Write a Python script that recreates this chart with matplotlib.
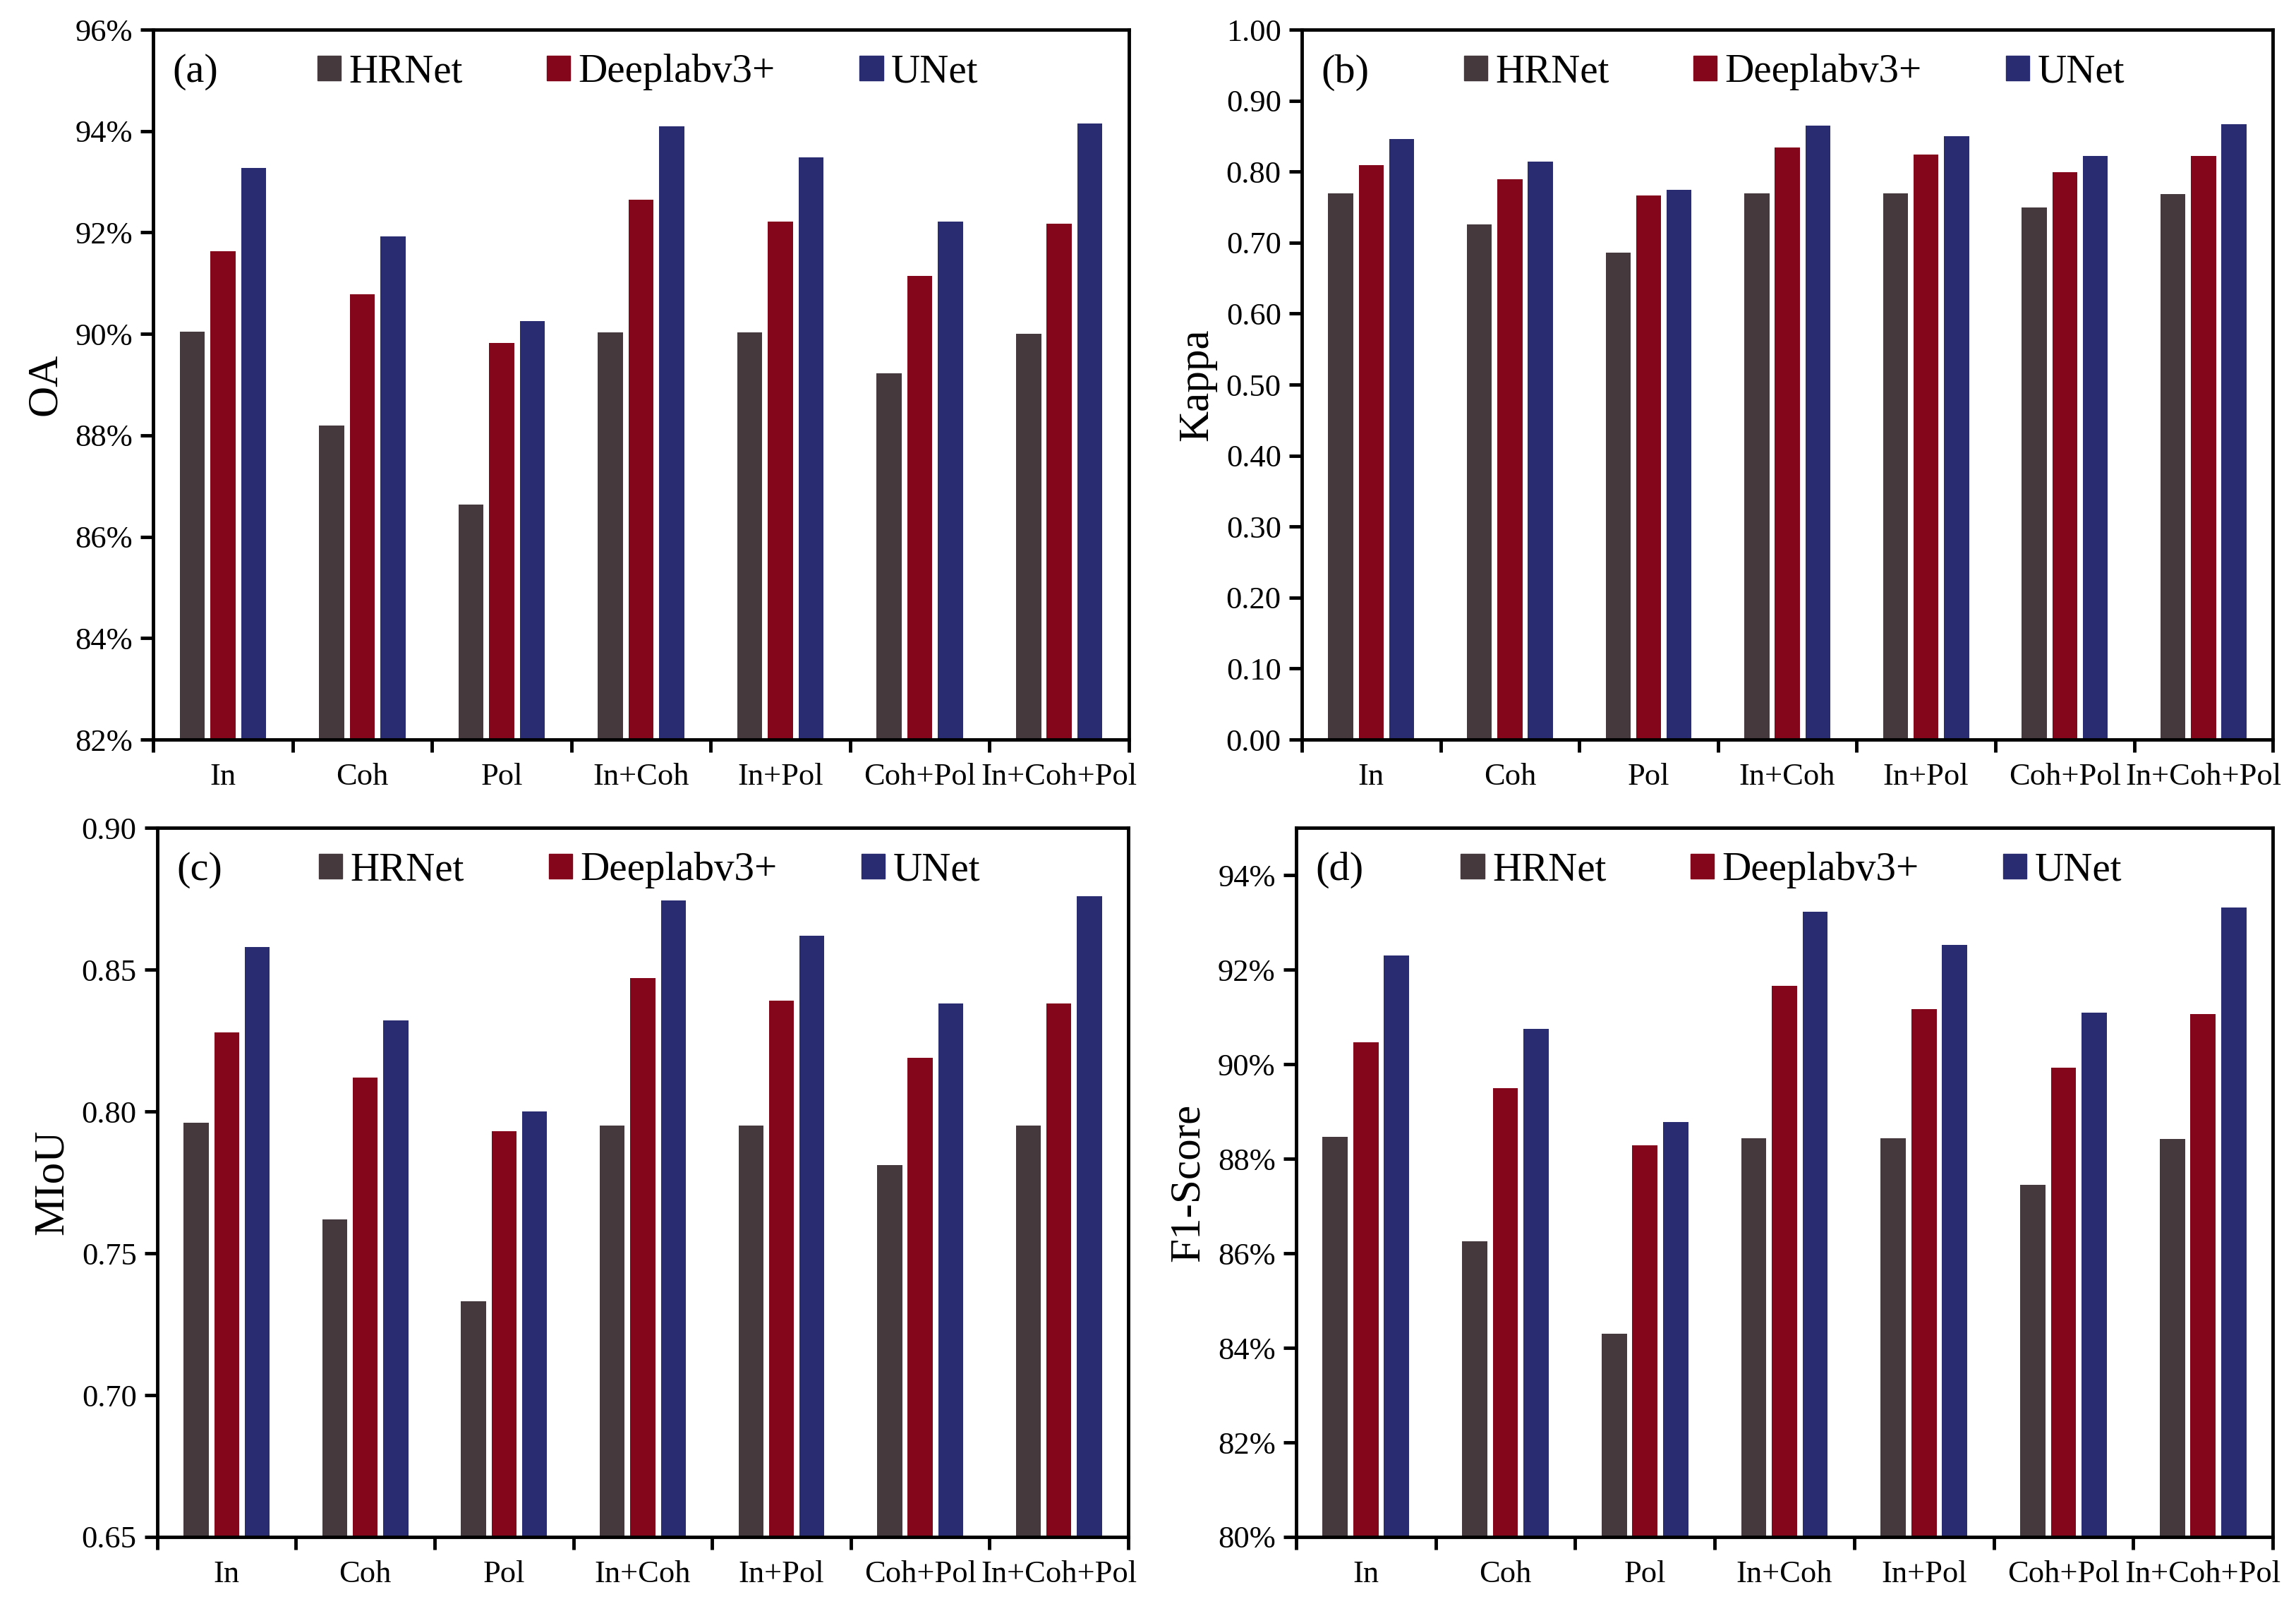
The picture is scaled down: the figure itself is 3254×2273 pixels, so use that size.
import matplotlib
matplotlib.use("Agg")
import matplotlib.pyplot as plt
import numpy as np
from matplotlib.patches import Patch
from matplotlib.ticker import FuncFormatter, FixedLocator

plt.rcParams['font.family'] = ['Liberation Serif', 'DejaVu Serif']

groups = ["In", "Coh", "Pol", "In+Coh", "In+Pol", "Coh+Pol", "In+Coh+Pol"]
models = ["HRNet", "Deeplabv3+", "UNet"]
colors = ["#46393D", "#83061A", "#2A2C72"]

# (a) OA in %
oa_hrnet = [90.05, 88.20, 86.64, 90.03, 90.03, 89.22, 90.00]
oa_deeplab = [91.63, 90.78, 89.82, 92.65, 92.22, 91.15, 92.18]
oa_unet = [93.28, 91.92, 90.25, 94.10, 93.48, 92.22, 94.15]

# (b) Kappa
kappa_hrnet = [0.769, 0.726, 0.686, 0.769, 0.769, 0.750, 0.768]
kappa_deeplab = [0.809, 0.789, 0.766, 0.834, 0.824, 0.799, 0.822]
kappa_unet = [0.846, 0.814, 0.774, 0.865, 0.850, 0.822, 0.867]

# (c) MIoU
miou_hrnet = [0.796, 0.762, 0.733, 0.795, 0.795, 0.781, 0.795]
miou_deeplab = [0.828, 0.812, 0.793, 0.847, 0.839, 0.819, 0.838]
miou_unet = [0.858, 0.832, 0.800, 0.8745, 0.862, 0.838, 0.8758]

# (d) F1-Score in %
f1_hrnet = [88.47, 86.25, 84.30, 88.44, 88.44, 87.45, 88.42]
f1_deeplab = [90.47, 89.49, 88.29, 91.66, 91.17, 89.93, 91.06]
f1_unet = [92.30, 90.74, 88.77, 93.23, 92.52, 91.09, 93.31]

panels = [
    ("(a)", "OA", [oa_hrnet, oa_deeplab, oa_unet], (82, 96), np.arange(82, 97, 2), lambda v, p: "%d%%" % round(v)),
    ("(b)", "Kappa", [kappa_hrnet, kappa_deeplab, kappa_unet], (0, 1.0), np.arange(0, 1.01, 0.1), lambda v, p: "%.2f" % v),
    ("(c)", "MIoU", [miou_hrnet, miou_deeplab, miou_unet], (0.65, 0.90), np.arange(0.65, 0.901, 0.05), lambda v, p: "%.2f" % v),
    ("(d)", "F1-Score", [f1_hrnet, f1_deeplab, f1_unet], (80, 95), np.arange(80, 95, 2), lambda v, p: "%d%%" % round(v)),
]

rects = [
    [0.0667, 0.5389, 0.4250, 0.4426],
    [0.5670, 0.5389, 0.4229, 0.4426],
    [0.0685, 0.0418, 0.4229, 0.4421],
    [0.5645, 0.0418, 0.4254, 0.4421],
]

fig = plt.figure(figsize=(32.54, 22.73), dpi=100)
x = np.arange(len(groups))
width = 0.18
offsets = [-0.22, 0.0, 0.22]

for (tag, ylab, series, ylim, yticks, fmt), rect in zip(panels, rects):
    ax = fig.add_axes(rect)
    for vals, off, c, m in zip(series, offsets, colors, models):
        ax.bar(x + 0.5 + off, np.array(vals) - ylim[0], width, bottom=ylim[0], color=c, label=m)
    ax.set_xlim(0, len(groups))
    ax.set_ylim(*ylim)
    ax.set_yticks(yticks)
    ax.yaxis.set_major_formatter(FuncFormatter(fmt))
    ax.xaxis.set_major_locator(FixedLocator(np.arange(0, len(groups) + 1)))
    ax.xaxis.set_minor_locator(FixedLocator(x + 0.5))
    ax.set_xticklabels([], minor=False)
    ax.set_xticklabels(groups, minor=True)
    ax.tick_params(axis='x', which='major', direction='out', length=13, width=3.5)
    ax.tick_params(axis='x', which='minor', length=0, pad=24, labelsize=32)
    ax.tick_params(axis='y', direction='out', length=13, width=3.5, labelsize=32, pad=8)
    for s in ax.spines.values():
        s.set_linewidth(3.5)
    ax.set_ylabel(ylab, fontsize=44, labelpad=10)
    ax.text(0.02, 0.94, tag, transform=ax.transAxes, fontsize=42, va='center', ha='left')
    handles = [Patch(color=c, label=m) for c, m in zip(colors, models)]
    ax.legend(handles=handles, ncol=3, loc='center', bbox_to_anchor=(0.507, 0.94),
              frameon=False, fontsize=41, handlelength=0.58, handleheight=0.58,
              handletextpad=0.2, columnspacing=2.1)

fig.savefig("out.png", dpi=100)
